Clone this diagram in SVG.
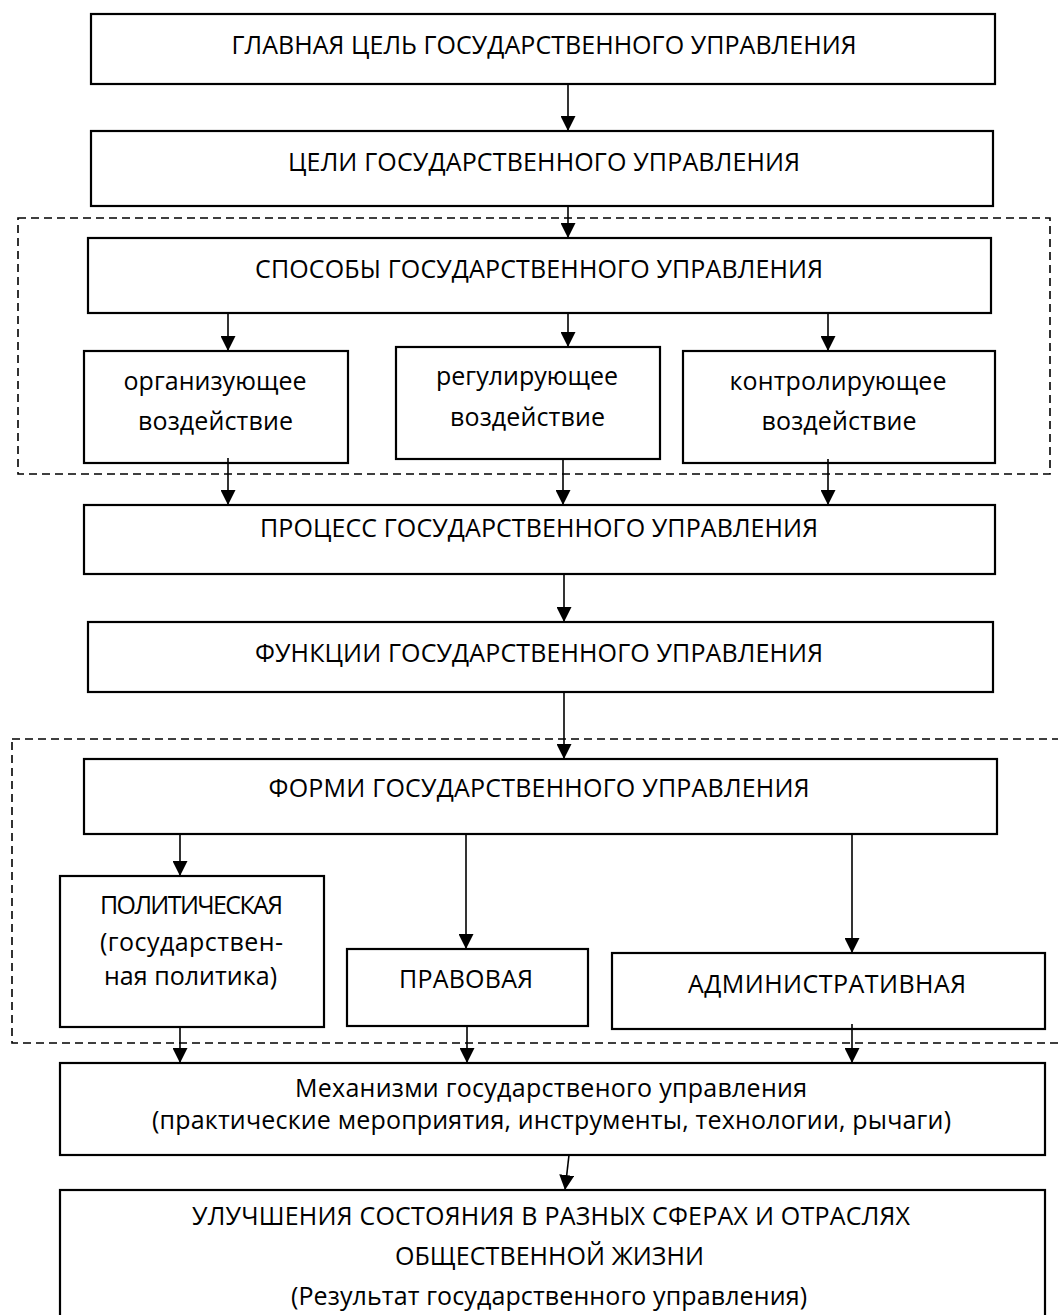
<svg xmlns="http://www.w3.org/2000/svg" width="1058" height="1315" viewBox="0 0 1058 1315">
<defs>
<marker id="ah" markerWidth="15" markerHeight="15" refX="15" refY="7.5" orient="auto" markerUnits="userSpaceOnUse">
<path d="M0,0 L15,7.5 L0,15 Z" fill="#000"/>
</marker>
<style>
.box{fill:#fff;stroke:#000;stroke-width:2.2}
.dash{fill:none;stroke:#000;stroke-width:1.6;stroke-dasharray:8 5}
.con line{stroke:#000;stroke-width:1.6;fill:none;marker-end:url(#ah)}
text{font-family:'Open Sans','Noto Sans','DejaVu Sans',sans-serif;font-size:25px;fill:#000;text-anchor:middle}
</style>
</defs>
<rect width="1058" height="1315" fill="#fff"/>
<g id="group-sposoby"><rect class="dash" x="18" y="218" width="1032" height="256"/></g>
<g id="group-formy"><rect class="dash" x="12" y="739" width="1060" height="304"/></g>

<g id="n-glavnaya"><rect class="box" x="91" y="14" width="904" height="70"/><text x="544" y="54" textLength="625">ГЛАВНАЯ ЦЕЛЬ ГОСУДАРСТВЕННОГО УПРАВЛЕНИЯ</text></g>
<g id="n-celi"><rect class="box" x="91" y="131" width="902" height="75"/><text x="544" y="171" textLength="512">ЦЕЛИ ГОСУДАРСТВЕННОГО УПРАВЛЕНИЯ</text></g>
<g id="n-sposoby"><rect class="box" x="88" y="238" width="903" height="75"/><text x="539" y="278" textLength="568">СПОСОБЫ ГОСУДАРСТВЕННОГО УПРАВЛЕНИЯ</text></g>
<g id="n-org"><rect class="box" x="84" y="351" width="264" height="112"/><text x="215" y="390" textLength="183">организующее</text><text x="215.5" y="430" textLength="155">воздействие</text></g>
<g id="n-reg"><rect class="box" x="396" y="347" width="264" height="112"/><text x="527" y="385" textLength="182">регулирующее</text><text x="527.5" y="426" textLength="155">воздействие</text></g>
<g id="n-kontr"><rect class="box" x="683" y="351" width="312" height="112"/><text x="838" y="390" textLength="217">контролирующее</text><text x="839" y="430" textLength="155">воздействие</text></g>
<g id="n-process"><rect class="box" x="84" y="505" width="911" height="69"/><text x="539" y="537" textLength="558">ПРОЦЕСС ГОСУДАРСТВЕННОГО УПРАВЛЕНИЯ</text></g>
<g id="n-funkcii"><rect class="box" x="88" y="622" width="905" height="70"/><text x="539" y="662" textLength="568">ФУНКЦИИ ГОСУДАРСТВЕННОГО УПРАВЛЕНИЯ</text></g>
<g id="n-formy"><rect class="box" x="84" y="759" width="913" height="75"/><text x="539" y="797" textLength="541">ФОРМИ ГОСУДАРСТВЕННОГО УПРАВЛЕНИЯ</text></g>
<g id="n-polit"><rect class="box" x="60" y="876" width="264" height="151"/><text x="191.5" y="914" textLength="183">ПОЛИТИЧЕСКАЯ</text><text x="191.5" y="951" textLength="183">(государствен-</text><text x="190.5" y="985" textLength="173">ная политика)</text></g>
<g id="n-pravo"><rect class="box" x="347" y="949" width="241" height="77"/><text x="466" y="988" textLength="134">ПРАВОВАЯ</text></g>
<g id="n-admin"><rect class="box" x="612" y="953" width="433" height="76"/><text x="827" y="993" textLength="278">АДМИНИСТРАТИВНАЯ</text></g>
<g id="n-mehanizmy"><rect class="box" x="60" y="1063" width="985" height="92"/><text x="551" y="1097" textLength="512">Механизми государственого управления</text><text x="551.5" y="1129" textLength="799">(практические мероприятия, инструменты, технологии, рычаги)</text></g>
<g id="n-rezultat"><rect class="box" x="60" y="1190" width="985" height="140"/><text x="551" y="1225" textLength="718">УЛУЧШЕНИЯ СОСТОЯНИЯ В РАЗНЫХ СФЕРАХ И ОТРАСЛЯХ</text><text x="549.5" y="1265" textLength="309">ОБЩЕСТВЕННОЙ ЖИЗНИ</text><text x="549" y="1305" textLength="516">(Результат государственного управления)</text></g>

<g id="connectors" class="con">
<line x1="568" y1="84" x2="568" y2="131"/>
<line x1="568" y1="206" x2="568" y2="238"/>
<line x1="228" y1="313" x2="228" y2="351"/>
<line x1="568" y1="313" x2="568" y2="347"/>
<line x1="828" y1="313" x2="828" y2="351"/>
<line x1="228" y1="458" x2="228" y2="505"/>
<line x1="563" y1="459" x2="563" y2="505"/>
<line x1="828" y1="459" x2="828" y2="505"/>
<line x1="564" y1="574" x2="564" y2="622"/>
<line x1="564" y1="692" x2="564" y2="759"/>
<line x1="180" y1="834" x2="180" y2="876"/>
<line x1="466" y1="834" x2="466" y2="949"/>
<line x1="852" y1="834" x2="852" y2="953"/>
<line x1="180" y1="1027" x2="180" y2="1063"/>
<line x1="467" y1="1026" x2="467" y2="1063"/>
<line x1="852" y1="1024" x2="852" y2="1063"/>
<line x1="569" y1="1155" x2="565" y2="1190"/>
</g>
</svg>
